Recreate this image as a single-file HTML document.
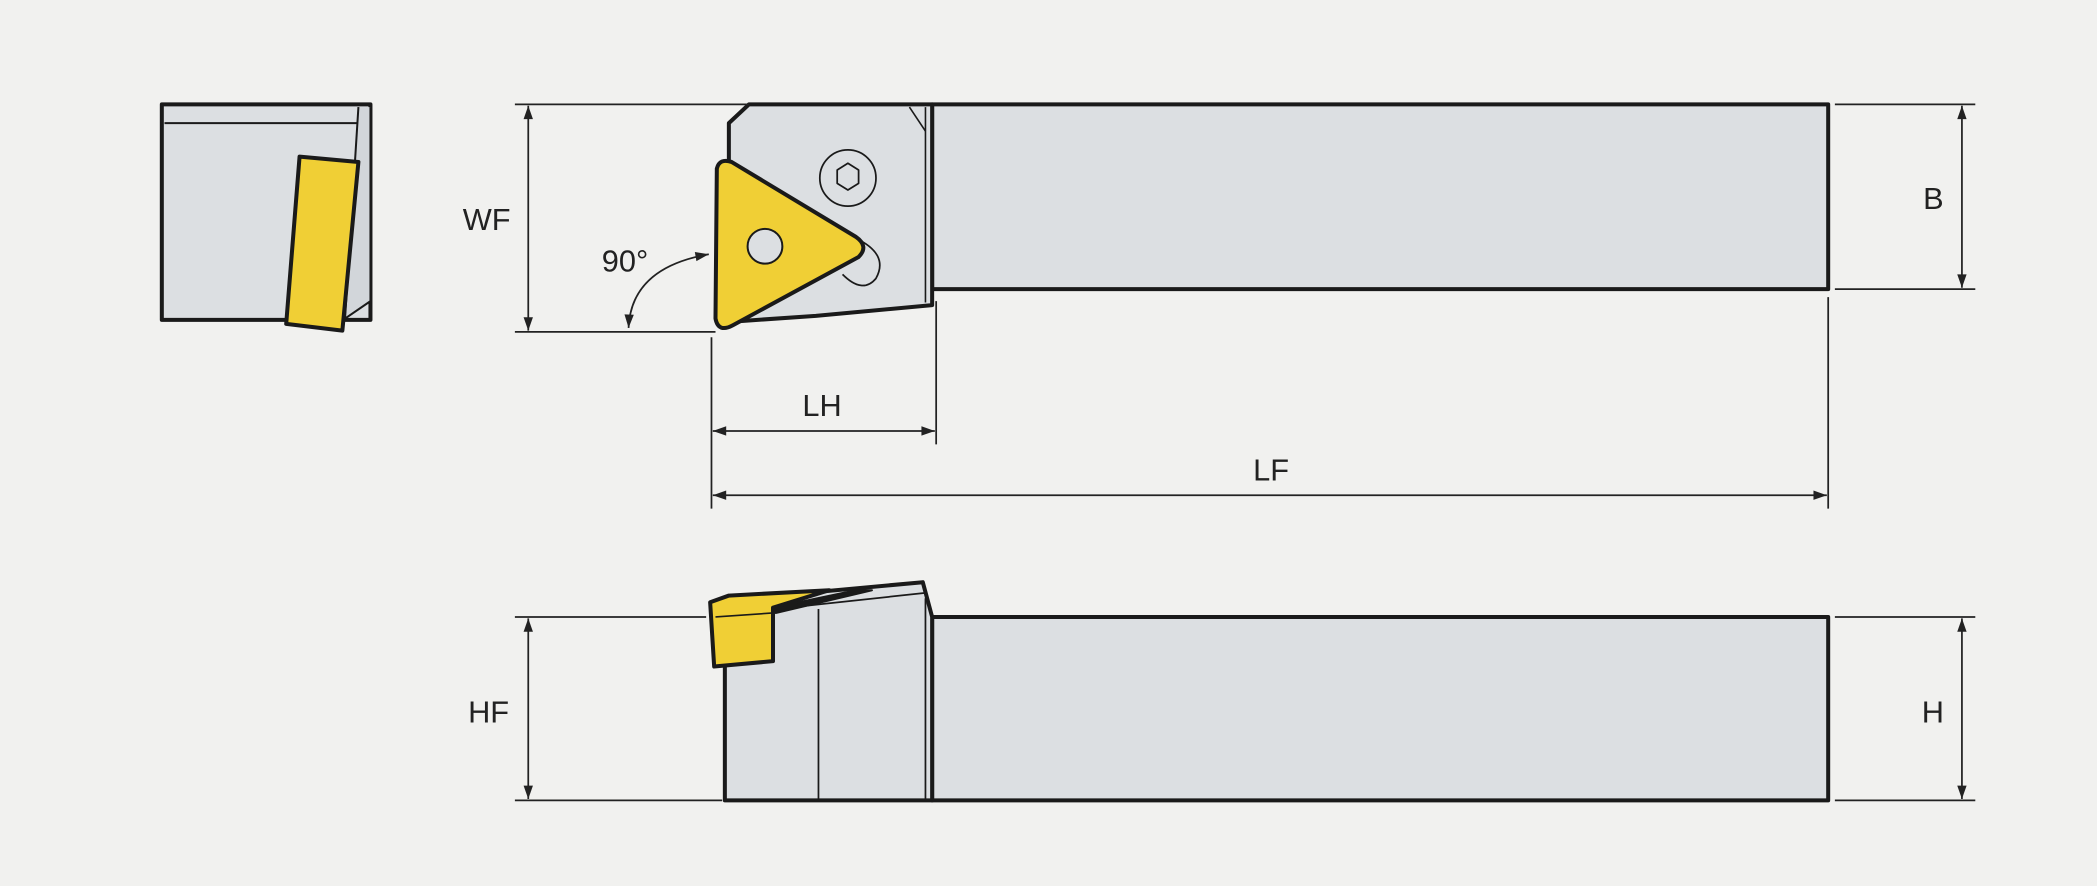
<!DOCTYPE html>
<html><head><meta charset="utf-8"><style>
html,body{margin:0;padding:0;background:#f1f1ef;}
svg{display:block;}
text{font-family:"Liberation Sans",sans-serif;font-size:23px;fill:#222;}
</style></head><body>
<svg width="2097" height="886" viewBox="0 0 1568 662" preserveAspectRatio="none" xmlns="http://www.w3.org/2000/svg">
<defs>
<marker id="v" viewBox="0 0 10 10" refX="10" refY="5" markerWidth="22" markerHeight="10" markerUnits="userSpaceOnUse" orient="auto-start-reverse">
<path d="M0,1.5 L10,5 L0,8.5 z" fill="#222"/></marker>
</defs>
<rect width="1568" height="662" fill="#f1f1ef"/>
<g stroke="#1a1a1a" stroke-linejoin="round">
<!-- small side view -->
<rect x="121" y="78" width="156" height="161" fill="#dcdfe2" stroke-width="3"/>
<line x1="123" y1="92" x2="268" y2="92" stroke-width="1.5"/>
<polyline points="268,80 258,238 277,225 277,80" fill="#d2d6da" stroke-width="1.5"/>
<polygon points="224,117 268,121 256,247 214,242" fill="#f0cf35" stroke-width="3"/>
<!-- top view -->
<rect x="697" y="78" width="670" height="138" fill="#dcdfe2" stroke-width="3"/>
<polygon points="545,92 560,78 697,78 697,228 610,236 552,240 545,130" fill="#dcdfe2" stroke-width="3"/>
<line x1="680" y1="80" x2="692" y2="98" stroke-width="1.2"/>
<line x1="692" y1="80" x2="692" y2="226" stroke-width="1.2"/>
<circle cx="634" cy="133" r="21" fill="none" stroke-width="1.3"/>
<polygon points="634,122 642,127 642,137 634,142 626,137 626,127" fill="none" stroke-width="1.3"/>
<path d="M640,178 Q665,190 655,208 Q645,220 630,205" fill="none" stroke-width="1.3"/>
<path d="M536,126 Q538,118 547,121 L640,177 Q650,184 642,192 L548,243 Q537,249 535,238 Z" fill="#f0cf35" stroke-width="3"/>
<circle cx="572" cy="184" r="13" fill="#dcdfe2" stroke-width="1.5"/>
<!-- bottom view -->
<rect x="697" y="461" width="670" height="137" fill="#dcdfe2" stroke-width="3"/>
<polygon points="542,470 542,598 697,598 697,461 690,435 560,447 538,452" fill="#dcdfe2" stroke-width="3"/>
<line x1="612" y1="455" x2="612" y2="597" stroke-width="1.3"/>
<line x1="692" y1="447" x2="692" y2="597" stroke-width="1.3"/>
<line x1="580" y1="455" x2="692" y2="443" stroke-width="1.3"/>
<polygon points="531,450 545,445 620,441 578,454 578,494 534,498" fill="#f0cf35" stroke-width="3"/>
<line x1="535" y1="461" x2="578" y2="458" stroke-width="1.2"/>
<polygon points="578,454 640,441 652,441 580,458" fill="#1a1a1a" stroke-width="1.5"/>
</g>
<g stroke="#222" stroke-width="1.3" fill="none">
<line x1="385" y1="78" x2="560" y2="78"/>
<line x1="385" y1="248" x2="535" y2="248"/>
<line x1="395" y1="79" x2="395" y2="247" marker-start="url(#v)" marker-end="url(#v)"/>
<path d="M470,245 Q472,200 530,190" marker-start="url(#v)" marker-end="url(#v)"/>
<line x1="532" y1="252" x2="532" y2="380"/>
<line x1="700" y1="225" x2="700" y2="332"/>
<line x1="533" y1="322" x2="699" y2="322" marker-start="url(#v)" marker-end="url(#v)"/>
<line x1="1367" y1="222" x2="1367" y2="380"/>
<line x1="533" y1="370" x2="1366" y2="370" marker-start="url(#v)" marker-end="url(#v)"/>
<line x1="1372" y1="78" x2="1477" y2="78"/>
<line x1="1372" y1="216" x2="1477" y2="216"/>
<line x1="1467" y1="79" x2="1467" y2="215" marker-start="url(#v)" marker-end="url(#v)"/>
<line x1="385" y1="461" x2="528" y2="461"/>
<line x1="385" y1="598" x2="540" y2="598"/>
<line x1="395" y1="462" x2="395" y2="597" marker-start="url(#v)" marker-end="url(#v)"/>
<line x1="1372" y1="461" x2="1477" y2="461"/>
<line x1="1372" y1="598" x2="1477" y2="598"/>
<line x1="1467" y1="462" x2="1467" y2="597" marker-start="url(#v)" marker-end="url(#v)"/>
</g>
<text x="346" y="172">WF</text>
<text x="450" y="203">90°</text>
<text x="600" y="311">LH</text>
<text x="937" y="359">LF</text>
<text x="1438" y="156">B</text>
<text x="350" y="540">HF</text>
<text x="1437" y="540">H</text>
</svg>
</body></html>
